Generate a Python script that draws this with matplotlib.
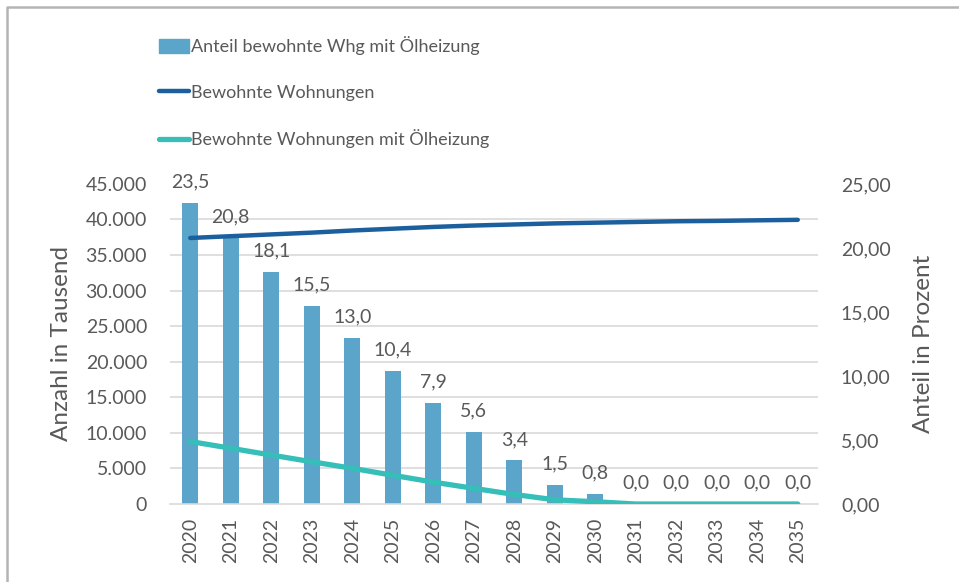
import numpy as np
import matplotlib
matplotlib.use("Agg")
import matplotlib.pyplot as plt
from matplotlib.lines import Line2D
from matplotlib.patches import Patch

# data
jahre = [str(j) for j in range(2020, 2036)]
anteil_prozent = [23.5, 20.8, 18.1, 15.5, 13.0, 10.4, 7.9, 5.6, 3.4, 1.5, 0.8, 0.0, 0.0, 0.0, 0.0, 0.0]
bewohnte_whg = [37400, 37650, 37900, 38150, 38450, 38700, 38950, 39150,
                39300, 39450, 39550, 39650, 39750, 39800, 39880, 39950]
whg_oel = [8790, 7840, 6880, 5940, 5020, 4040, 3080, 2200,
           1340, 590, 320, 0, 0, 0, 0, 0]

farbe_bar = '#5BA4CA'
farbe_dunkel = '#1C5F9E'
farbe_tuerkis = '#35BFB8'
farbe_text = '#595959'
farbe_grid = '#D9D9D9'

plt.rcParams['font.family'] = ['Lato', 'DejaVu Sans']

fig = plt.figure(figsize=(9.59, 5.82), dpi=100)
ax = fig.add_axes([0.1773, 0.134, 0.6757, 0.55])
ax2 = ax.twinx()

x = np.arange(len(jahre))

# bars on percent axis (drawn underneath)
ax.bar(x, anteil_prozent, width=0.4, color=farbe_bar, zorder=2)
for xi, v in zip(x, anteil_prozent):
    ax.annotate(f"{v:.1f}".replace('.', ','), (xi, v), xytext=(0, 9),
                textcoords='offset points', ha='center', va='bottom',
                fontsize=14, color=farbe_text)

ax.set_ylim(0, 25)
ax.set_yticks(np.arange(0, 26, 5))
ax.set_yticklabels([f"{t:.2f}".replace('.', ',') for t in np.arange(0, 26, 5)])
ax.yaxis.tick_right()
ax.yaxis.set_label_position('right')
ax.set_ylabel('Anteil in Prozent', fontsize=17.5, color=farbe_text, labelpad=16)

# lines on count axis
ax2.plot(x, bewohnte_whg, color=farbe_dunkel, lw=3.2, solid_capstyle='round')
ax2.plot(x, whg_oel, color=farbe_tuerkis, lw=3.8, solid_capstyle='round')
ax2.set_ylim(0, 45000)
links_ticks = np.arange(0, 45001, 5000)
ax2.set_yticks(links_ticks)
ax2.set_yticklabels([f"{t:,}".replace(',', '.') for t in links_ticks])
ax2.yaxis.tick_left()
ax2.yaxis.set_label_position('left')
ax2.set_ylabel('Anzahl in Tausend', fontsize=17.5, color=farbe_text, labelpad=10)

# gridlines follow the left axis, but sit behind the bars
ax.set_yticks(links_ticks * 25 / 45000, minor=True)
ax.grid(which='minor', axis='y', color=farbe_grid, lw=1.2, zorder=0)
ax.tick_params(axis='y', which='minor', length=0)
ax.set_axisbelow(True)

ax.set_xlim(-0.5, len(jahre) - 0.5)
ax.set_xticks(x)
ax.set_xticklabels(jahre, rotation=90)

for a in (ax, ax2):
    for s in a.spines.values():
        s.set_visible(False)
    a.tick_params(length=0, labelsize=14, labelcolor=farbe_text, pad=16.5)
ax.tick_params(axis='x', pad=10)
ax.spines['bottom'].set_visible(True)
ax.spines['bottom'].set_color(farbe_grid)
ax.spines['bottom'].set_linewidth(1.2)

handles = [Patch(color=farbe_bar),
           Line2D([], [], color=farbe_dunkel, lw=3.2, solid_capstyle='round'),
           Line2D([], [], color=farbe_tuerkis, lw=3.8, solid_capstyle='round')]
labels = ['Anteil bewohnte Whg mit Ölheizung', 'Bewohnte Wohnungen',
          'Bewohnte Wohnungen mit Ölheizung']
leg = fig.legend(handles, labels, loc='upper left', bbox_to_anchor=(0.158, 0.95),
                 frameon=False, fontsize=13, handlelength=1.65, handleheight=0.85,
                 handletextpad=0.15, labelspacing=1.6, borderaxespad=0)
for t in leg.get_texts():
    t.set_color(farbe_text)

# frame lines at top and left as in the screenshot
fig.add_artist(Line2D([0.0073, 0.0073, 1.0], [0.0, 0.988, 0.988],
                      transform=fig.transFigure, color='#B4B4B4', lw=1.8))

fig.savefig('out.png', dpi=100)
